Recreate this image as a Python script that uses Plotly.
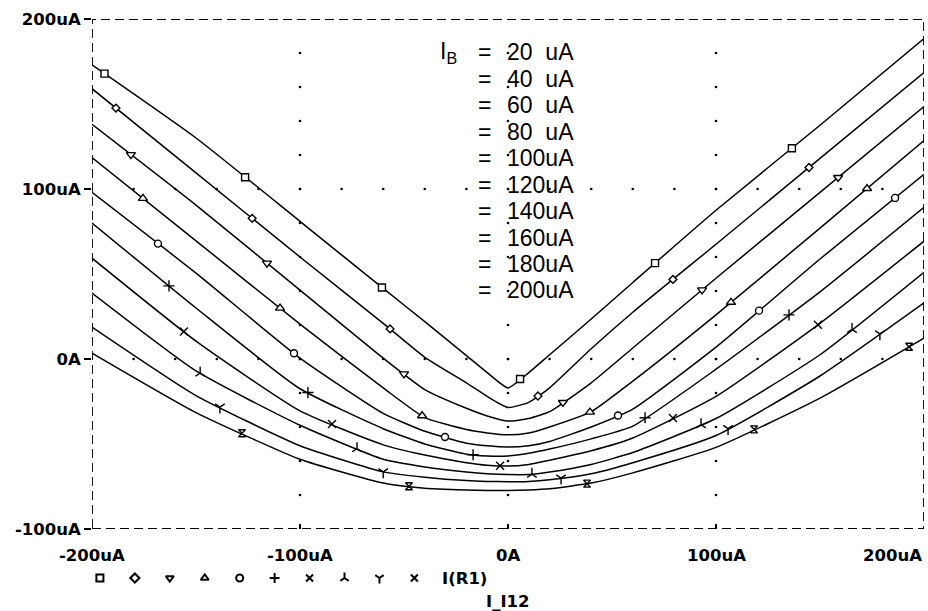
import numpy as np
import plotly.graph_objects as go

# ---------------- data ----------------
XGRID = [-200, -150, -100, -60, -40, -20, -10, 0, 10, 20, 40, 60, 100, 150, 200]

c1 = [173, 130, 81, 41.5, 22, 2, -8, -17, -8, 2.5, 23.5, 45, 87.5, 137.5, 188.5]
c2 = [159, 109.5, 60, 21, 1, -14, -22, -28.5, -25.5, -17, 6, 27.5, 67.5, 118, 168.5]
c3 = [138, 90.5, 40.5, 0.5, -18, -29, -33.5, -36.5, -35, -31, -14, 6.5, 47.5, 98, 148.5]
c4 = [118.5, 69.5, 20.5, -17, -34.5, -41.5, -43.5, -44.6, -43.5, -40, -31, -13, 26, 77, 128.5]
c5 = [98, 50.5, 0.5, -32, -42.5, -49.5, -51, -51.7, -51, -48.5, -40, -29.5, 7, 58.8, 108.6]
c6 = [80, 30, -17.5, -41, -50, -56, -57, -57, -55.5, -53, -47, -39.5, -6, 39.5, 89.2]
c7 = [59.3, 10.5, -30.5, -50.5, -56.5, -61, -62.5, -63, -62, -59.5, -54, -46.5, -22, 21, 69.3]
c8 = [38.8, -7, -39, -59, -63.5, -66.5, -67.5, -68, -68, -66.5, -62, -55, -35, 2.5, 51]
c9 = [18.8, -21.5, -51, -66.4, -69.5, -71.5, -72, -72.2, -72, -71, -67.5, -61, -45, -10, 33]
c10 = [3.5, -31.5, -59, -73, -76, -77, -77.3, -77.3, -77, -76.3, -73, -67, -52, -23, 12.3]
CURVES = [c1, c2, c3, c4, c5, c6, c7, c8, c9, c10]

# x positions of the symbols drawn on each curve
m1 = [-194, -126.4, -60.6, 5.8, 70.7, 136.5]
m2 = [-188.5, -123, -56.7, 14.4, 79.3, 144.7]
m3 = [-181.3, -115.9, -50, 26.4, 93.3, 158.7]
m4 = [-175.5, -109.6, -41.3, 39.4, 107.2, 172.6]
m5 = [-168.3, -102.9, -30.3, 52.9, 120.7, 186.1]
m6 = [-163, -96.2, -16.8, 65.9, 135.1]
m7 = [-155.8, -84.6, -3.8, 79.3, 149]
m8 = [-148, -72.6, 11.5, 92.8, 165.4]
m9 = [-138.5, -60, 25.5, 105.8, 178.8]
m10 = [-127.9, -47.6, 38, 118.3, 192.8]
MARKS = [m1, m2, m3, m4, m5, m6, m7, m8, m9, m10]

IB = [20, 40, 60, 80, 100, 120, 140, 160, 180, 200]
Y_TICKS = [200, 100, 0, -100]
Y_TICKTEXT = ["200uA", "100uA", "0A", "-100uA"]
X_TICKS = [-200, -100, 0, 100, 200]
X_TICKTEXT = ["-200uA", "-100uA", "0A", "100uA", "200uA"]

SYMBOLS = ["square", "diamond", "triangle-down", "triangle-up", "circle",
           "cross-thin", "x-thin", "y-up", "y-down", "hourglass"]
SIZES = [7, 6, 8, 8, 7, 8, 8, 8, 8, 7]
LEG_SYMBOLS = ["square", "diamond", "triangle-down", "triangle-up", "circle",
               "cross-thin", "x-thin", "y-up", "y-down", "x-thin"]

BOLD = dict(family="DejaVu Sans", size=16.5, color="black", weight="bold")
LABEL = dict(family="Liberation Sans", size=23, color="black")

W, H = 928, 611
ML, MR, MT = 92, 4, 19
STRIP = 82                       # pixel height of the strip under the plot
PLOT_H = H - MT                  # plotting area incl. strip
main_domain = [STRIP / PLOT_H, 1]
strip_domain = [0, STRIP / PLOT_H]

fig = go.Figure()

# dotted grid (dots every 20uA along the major grid lines)
gx, gy = [], []
for yv in [0, 100]:
    for xv in np.arange(-180, 181, 20):
        gx.append(xv); gy.append(yv)
for xv in [-100, 0, 100]:
    for yv in np.arange(-80, 181, 20):
        gx.append(xv); gy.append(yv)
fig.add_trace(go.Scatter(x=gx, y=gy, mode="markers",
                         marker=dict(size=2.6, color="black"),
                         hoverinfo="skip", showlegend=False))

# curves
for yv in CURVES:
    fig.add_trace(go.Scatter(x=XGRID, y=yv, mode="lines",
                             line=dict(color="black", width=1.5, shape="spline", smoothing=0.5),
                             showlegend=False))

# symbols on curves
for i, (yv, mx) in enumerate(zip(CURVES, MARKS)):
    my = np.interp(mx, XGRID, yv)
    fig.add_trace(go.Scatter(x=mx, y=my, mode="markers",
                             marker=dict(symbol=SYMBOLS[i], size=SIZES[i], color="white",
                                         line=dict(color="black", width=1.4)),
                             showlegend=False))

# legend row of symbols under the axis (strip axes, y in pixels from bottom)
leg_x0, leg_dx, leg_y = -196.2, 16.8, 33
fig.add_trace(go.Scatter(x=[leg_x0 + i * leg_dx for i in range(len(LEG_SYMBOLS))],
                         y=[leg_y] * len(LEG_SYMBOLS), mode="markers",
                         xaxis="x2", yaxis="y2",
                         marker=dict(symbol=LEG_SYMBOLS, size=7, color="white",
                                     line=dict(color="black", width=2)),
                         showlegend=False))

annotations = []
# x tick labels
for xv, t in zip(X_TICKS, X_TICKTEXT):
    anchor = "right" if xv == 200 else "center"
    annotations.append(dict(x=xv, y=56, xref="x2", yref="y2", text=t, showarrow=False,
                            xanchor=anchor, yanchor="middle", font=BOLD))
annotations.append(dict(x=-32.5, y=33, xref="x2", yref="y2", text="I(R1)", showarrow=False,
                        xanchor="left", yanchor="middle", font=BOLD))
annotations.append(dict(x=0, y=10, xref="x2", yref="y2", text="I_I12", showarrow=False,
                        xanchor="center", yanchor="middle", font=BOLD))

# IB labels
annotations.append(dict(x=-33.5, y=180.3, xref="x", yref="y", text="I<sub>B</sub>",
                        showarrow=False, xanchor="left", yanchor="middle", font=LABEL))
for i, v in enumerate(IB):
    yy = 180.3 - i * 15.55
    txt = f"{v}uA" if v >= 100 else f"{v}\u00a0\u00a0uA"
    annotations.append(dict(x=-11.2, y=yy, xref="x", yref="y", text="=", showarrow=False,
                            xanchor="center", yanchor="middle", font=LABEL))
    annotations.append(dict(x=-1.6, y=yy, xref="x", yref="y", text=txt, showarrow=False,
                            xanchor="left", yanchor="middle", font=LABEL))

fig.update_layout(
    width=W, height=H,
    margin=dict(l=ML, r=MR, t=MT, b=0, autoexpand=False),
    paper_bgcolor="white", plot_bgcolor="white",
    showlegend=False,
    annotations=annotations,
    shapes=[dict(type="rect", xref="x", yref="y", x0=-200, x1=200, y0=-100, y1=200,
                 line=dict(color="black", width=1.8, dash="9px,5px"))],
    xaxis=dict(range=[-200, 200], domain=[0, 1], anchor="y", showgrid=False, zeroline=False,
               showline=False, tickvals=[-100, 0, 100], ticks="inside", ticklen=5,
               tickwidth=1.5, tickcolor="black", showticklabels=False, fixedrange=True),
    yaxis=dict(range=[-100, 200], domain=main_domain, anchor="x", showgrid=False,
               zeroline=False, showline=False, tickvals=Y_TICKS, ticktext=Y_TICKTEXT,
               ticks="outside", ticklen=7, tickwidth=1.5, tickcolor="black",
               tickfont=BOLD, fixedrange=True),
    xaxis2=dict(range=[-200, 200], domain=[0, 1], anchor="y2", visible=False, fixedrange=True),
    yaxis2=dict(range=[0, STRIP], domain=strip_domain, anchor="x2", visible=False,
                fixedrange=True),
)

fig.write_html("out.html")
